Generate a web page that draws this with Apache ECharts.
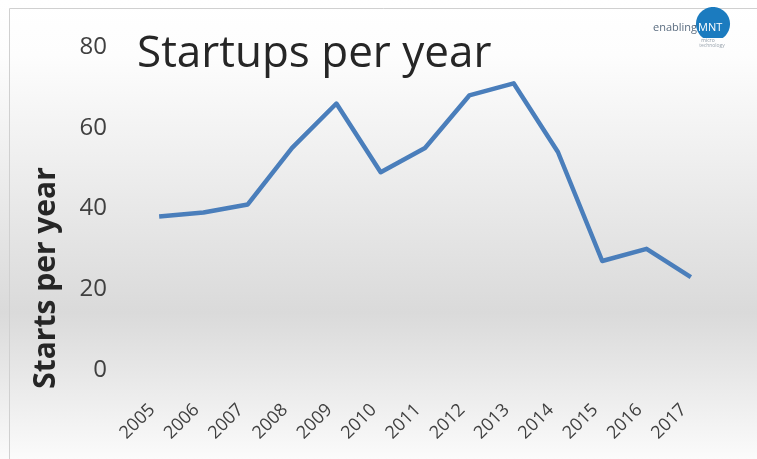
<!DOCTYPE html>
<html>
<head>
<meta charset="utf-8">
<script src="https://cdn.jsdelivr.net/npm/echarts@6/dist/echarts.min.js"></script>
<style>
html,body{margin:0;padding:0;background:#fff;}
#chart{width:757px;height:459px;}
</style>
</head>
<body>
<div id="chart"></div>
<script>
const years = ['2005','2006','2007','2008','2009','2010','2011','2012','2013','2014','2015','2016','2017'];
const starts = [38, 39, 41, 55, 66, 49, 55, 68, 71, 54, 27, 30, 23];
const yTicks = [0, 20, 40, 60, 80];
const titleText = 'Startups per year';
const yAxisName = 'Starts per year';

// logo shape: circle cut flat at the bottom
function logoShape(cx, cy, r, cutY) {
  const pts = [];
  const a0 = Math.asin((cutY - cy) / r);
  const start = a0, end = Math.PI - a0;
  // angles measured with y downward: point = (cx + r cos t, cy + r sin t)
  for (let i = 0; i <= 60; i++) {
    const t = start - i * (2 * Math.PI - (end - start)) / 60;
    pts.push([cx + r * Math.cos(t), cy + r * Math.sin(t)]);
  }
  return pts;
}

const chart = echarts.init(document.getElementById('chart'), null, {renderer: 'canvas'});
chart.setOption({
  animation: false,
  backgroundColor: {
    type: 'linear', x: 0, y: 0, x2: 0, y2: 1,
    colorStops: [
      {offset: 0, color: '#ffffff'},
      {offset: 0.12, color: '#fdfdfd'},
      {offset: 0.68, color: '#dadada'},
      {offset: 0.82, color: '#e8e8e8'},
      {offset: 1, color: '#fbfbfb'}
    ]
  },
  grid: {left: 137, right: 44, top: 47, bottom: 89, containLabel: false},
  xAxis: {
    type: 'category',
    data: years,
    boundaryGap: true,
    axisLine: {show: false},
    axisTick: {show: false},
    axisLabel: {
      rotate: 45, margin: 30, color: '#404040',
      fontSize: 18, fontFamily: 'Open Sans', padding: [0, 10, 0, 0]
    },
    splitLine: {show: false}
  },
  yAxis: {
    type: 'value',
    min: yTicks[0], max: yTicks[yTicks.length - 1], interval: 20,
    axisLine: {show: false},
    axisTick: {show: false},
    splitLine: {show: false},
    axisLabel: {
      margin: 30, color: '#404040', fontSize: 24, fontFamily: 'Open Sans'
    }
  },
  series: [{
    type: 'line',
    data: starts,
    symbol: 'none',
    lineStyle: {color: '#4a7ebb', width: 4.5, join: 'round'},
    itemStyle: {color: '#4a7ebb'}
  }],
  graphic: [
    {type: 'rect', left: 7, top: 6, silent: true,
     shape: {width: 752, height: 460},
     style: {fill: 'none', stroke: '#d0d0d0', lineWidth: 1}},
    {type: 'text', left: 137, top: 32,
     style: {text: titleText, fill: '#262626', fontSize: 44, fontFamily: 'Open Sans'}},
    {type: 'text', x: 46, y: 278, rotation: Math.PI / 2,
     style: {text: yAxisName, fill: '#262626', fontSize: 30, fontWeight: 'bold',
             fontFamily: 'Open Sans', align: 'center', verticalAlign: 'middle'}},
    {type: 'polygon', silent: true,
     shape: {points: logoShape(713, 24, 17, 38)},
     style: {fill: '#1b7bbf'}},
    {type: 'text', x: 697, y: 28,
     style: {text: 'enabling', fill: '#5b6d80', fontSize: 11, fontFamily: 'Open Sans',
             align: 'right', verticalAlign: 'middle'}},
    {type: 'text', x: 698, y: 28,
     style: {text: 'MNT', fill: '#ffffff', fontSize: 11, fontFamily: 'Open Sans',
             align: 'left', verticalAlign: 'middle'}},
    {type: 'text', x: 708, y: 41,
     style: {text: 'micro', fill: '#8a96a3', fontSize: 5, fontFamily: 'Open Sans',
             align: 'center', verticalAlign: 'middle'}},
    {type: 'text', x: 712, y: 46,
     style: {text: 'technology', fill: '#9aa4ae', fontSize: 5, fontFamily: 'Open Sans',
             align: 'center', verticalAlign: 'middle'}}
  ]
});
</script>
</body>
</html>
